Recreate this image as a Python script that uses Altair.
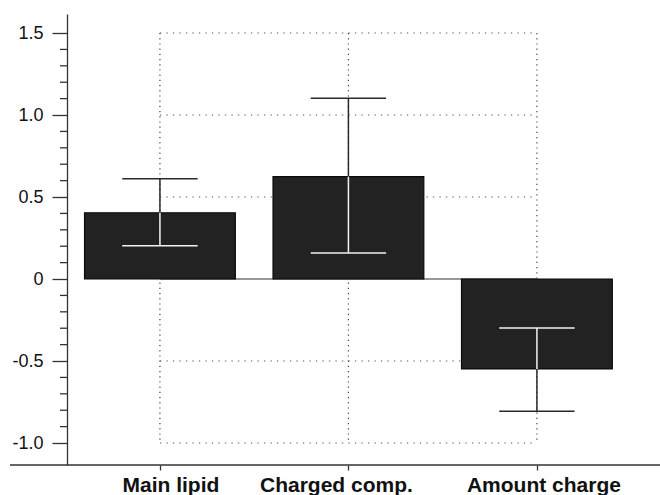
import altair as alt
import pandas as pd

# Effect estimates with their intervals
categories = ["Main lipid", "Charged comp.", "Amount charge"]
means = [0.404, 0.624, -0.548]
err_low = [0.203, 0.158, -0.807]
err_high = [0.612, 1.103, -0.298]

# Reference grid levels and y-axis ticks
grid_levels = [-1.0, -0.5, 0.5, 1.0, 1.5]
major_ticks = [-1.0, -0.5, 0.0, 0.5, 1.0, 1.5]
minor_ticks = [-0.9, -0.8, -0.7, -0.6, -0.4, -0.3, -0.2, -0.1,
               0.1, 0.2, 0.3, 0.4, 0.6, 0.7, 0.8, 0.9,
               1.1, 1.2, 1.3, 1.4]

# horizontal nudge of each category caption, in pixels
label_nudge_px = [11, -12, 7]

FONT = "Liberation Sans"
WIDTH, HEIGHT = 593, 451
Y_DOMAIN = [-1.134, 1.616]
X_DOMAIN = [-0.493, 2.653]
PX_PER_X = WIDTH / (X_DOMAIN[1] - X_DOMAIN[0])
HALF_BAR = 0.4
HALF_CAP = 0.2

rows = []
for i, (cat, m, lo, hi) in enumerate(zip(categories, means, err_low, err_high)):
    bar_lo, bar_hi = min(0.0, m), max(0.0, m)
    # part of the interval that lies over the bar is drawn in white
    rows.append(dict(idx=i, cat=cat, mean=m, lo=lo, hi=hi, zero=0.0,
                     in_lo=max(lo, bar_lo), in_hi=min(hi, bar_hi),
                     x_lo=i - HALF_BAR, x_hi=i + HALF_BAR,
                     lab_x=i + label_nudge_px[i] / PX_PER_X))
df = pd.DataFrame(rows)

caps = []
for r in rows:
    bar_lo, bar_hi = min(0.0, r["mean"]), max(0.0, r["mean"])
    for v in (r["lo"], r["hi"]):
        inside = bar_lo <= v <= bar_hi
        caps.append(dict(c_lo=r["idx"] - HALF_CAP, c_hi=r["idx"] + HALF_CAP, v=v,
                         col="#f2f2f2" if inside else "#2a2a2a"))
caps_df = pd.DataFrame(caps)

first, last = 0, len(categories) - 1
grid_df = pd.DataFrame({"g": grid_levels, "a": first, "b": last})
vert_df = pd.DataFrame({"idx": list(range(len(categories))),
                        "top": grid_levels[-1], "bot": grid_levels[0]})
zero_df = pd.DataFrame({"a": [first], "b": [last], "z": [0.0]})
minor_df = pd.DataFrame({"t": minor_ticks})

x_scale = alt.Scale(domain=X_DOMAIN, nice=False, zero=False)
y_scale = alt.Scale(domain=Y_DOMAIN, nice=False, zero=False)

y_axis = alt.Axis(
    values=major_ticks,
    title=None,
    grid=False,
    domainColor="#333333",
    domainWidth=1.3,
    tickColor="#333333",
    tickWidth=1.3,
    tickSize=15,
    labelExpr=(
        "abs(datum.value) < 0.001 ? '0' : "
        "(datum.value < 0 ? '-' + format(abs(datum.value), '.1f') : format(datum.value, '.1f'))"
    ),
    labelFont=FONT,
    labelFontSize=18,
    labelColor="#111111",
    labelPadding=9,
)
x_axis = alt.Axis(
    values=[0, 1, 2],
    title=None,
    grid=False,
    domain=False,
    tickColor="#333333",
    tickWidth=1.3,
    tickSize=5,
    labels=False,
)

dotted_h = dict(color="#555555", strokeWidth=1.2, strokeDash=[1.3, 5.2])
dotted_v = dict(color="#444444", strokeWidth=1.2, strokeDash=[1.2, 4.0])

grid_h = alt.Chart(grid_df).mark_rule(**dotted_h).encode(
    x=alt.X("a:Q", scale=x_scale, axis=x_axis),
    x2="b:Q",
    y=alt.Y("g:Q", scale=y_scale, axis=y_axis),
)
grid_v = alt.Chart(vert_df).mark_rule(**dotted_v).encode(
    x=alt.X("idx:Q", scale=x_scale, axis=x_axis),
    y=alt.Y("top:Q", scale=y_scale, axis=y_axis),
    y2="bot:Q",
)
zero_line = alt.Chart(zero_df).mark_rule(color="#333333", strokeWidth=1.2).encode(
    x=alt.X("a:Q", scale=x_scale, axis=x_axis),
    x2="b:Q",
    y=alt.Y("z:Q", scale=y_scale, axis=y_axis),
)

bars = alt.Chart(df).mark_bar(color="#222222", stroke="#0a0a0a", strokeWidth=1.2).encode(
    x=alt.X("x_lo:Q", scale=x_scale, axis=x_axis),
    x2="x_hi:Q",
    y=alt.Y("zero:Q", scale=y_scale, axis=y_axis),
    y2="mean:Q",
)

whisker = alt.Chart(df).mark_rule(color="#2a2a2a", strokeWidth=1.5).encode(
    x=alt.X("idx:Q", scale=x_scale, axis=x_axis),
    y=alt.Y("lo:Q", scale=y_scale, axis=y_axis),
    y2="hi:Q",
)
whisker_in = alt.Chart(df).mark_rule(color="#f2f2f2", strokeWidth=1.5).encode(
    x=alt.X("idx:Q", scale=x_scale, axis=x_axis),
    y=alt.Y("in_lo:Q", scale=y_scale, axis=y_axis),
    y2="in_hi:Q",
)
cap_marks = alt.Chart(caps_df).mark_rule(strokeWidth=1.5).encode(
    x=alt.X("c_lo:Q", scale=x_scale, axis=x_axis),
    x2="c_hi:Q",
    y=alt.Y("v:Q", scale=y_scale, axis=y_axis),
    color=alt.Color("col:N", scale=None),
)

# minor ticks on the left axis
minor = alt.Chart(minor_df).mark_rule(color="#333333", strokeWidth=1.3).encode(
    x=alt.value(-7), x2=alt.value(0),
    y=alt.Y("t:Q", scale=y_scale, axis=y_axis),
)

# category captions under the axis
captions = alt.Chart(df).mark_text(
    font=FONT, fontSize=21, fontWeight="bold", color="#111111",
    align="center", baseline="alphabetic",
).encode(
    x=alt.X("lab_x:Q", scale=x_scale, axis=x_axis),
    y=alt.value(HEIGHT + 26.5),
    text="cat:N",
)

# horizontal base line running under the whole chart
base_line = alt.Chart(zero_df).mark_rule(color="#333333", strokeWidth=1.3).encode(
    x=alt.value(-57), x2=alt.value(WIDTH), y=alt.value(HEIGHT)
)

chart = alt.layer(
    grid_h, grid_v, zero_line, bars, whisker, whisker_in, cap_marks, minor,
    captions, base_line
).properties(
    width=WIDTH,
    height=HEIGHT,
    autosize=alt.AutoSizeParams(type="none"),
    padding={"left": 67, "top": 14, "right": 0, "bottom": 30},
    background="#ffffff",
).configure_view(stroke=None)

chart.save("out.html", embed_options={"renderer": "svg", "actions": False})
